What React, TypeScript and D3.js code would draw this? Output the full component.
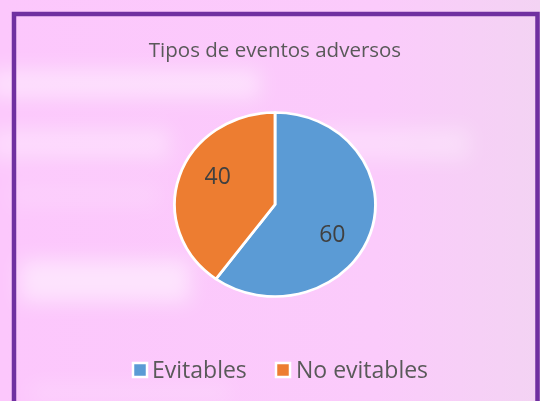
import React from "react";
import * as d3 from "d3";

const categories = ["Evitables", "No evitables"];
const values = [60, 40];
const colors = ["#5b9bd5", "#ed7d31"];
const title = "Tipos de eventos adversos";

const W = 540;
const H = 401;

export default function App() {
  const cx = 275;
  const cy = 204.5;
  const ry = 92;
  const sx = 1.092;

  const pie = d3.pie<number>().sort(null).startAngle(0).endAngle(2 * Math.PI);
  const arcs = pie(values);
  const arc = d3.arc<d3.PieArcDatum<number>>().innerRadius(0).outerRadius(ry);

  const labelPos = (a: d3.PieArcDatum<number>) => {
    const mid = (a.startAngle + a.endAngle) / 2;
    return [Math.sin(mid) * ry * sx * 0.6, -Math.cos(mid) * ry * 1.02];
  };

  const font = "'Open Sans', 'Noto Sans', sans-serif";

  const legendY = 370;
  const legendItems = [
    { x: 133, tx: 152 },
    { x: 276, tx: 296 },
  ];

  const blobs = [
    { x: -10, y: 70, w: 270, h: 28, o: 0.45 },
    { x: -10, y: 128, w: 180, h: 32, o: 0.35 },
    { x: 320, y: 128, w: 150, h: 32, o: 0.3 },
    { x: 10, y: 182, w: 150, h: 26, o: 0.15 },
    { x: 20, y: 260, w: 170, h: 42, o: 0.5 },
    { x: 30, y: 385, w: 200, h: 16, o: 0.2 },
  ];

  return (
    <svg
      width={W}
      height={H}
      viewBox={`0 0 ${W} ${H}`}
      style={{ position: "fixed", left: 0, top: 0, display: "block" }}
    >
      <defs>
        <linearGradient id="bg" x1="0" y1="0" x2="1" y2="0">
          <stop offset="0" stopColor="#fcc7fc" />
          <stop offset="0.7" stopColor="#fbcbfb" />
          <stop offset="1" stopColor="#f3d3f3" />
        </linearGradient>
        <filter id="blur" x="-50%" y="-50%" width="200%" height="200%">
          <feGaussianBlur stdDeviation="10" />
        </filter>
      </defs>
      <rect x={0} y={0} width={W} height={H} fill="url(#bg)" />
      <g filter="url(#blur)">
        {blobs.map((b, i) => (
          <rect key={i} x={b.x} y={b.y} width={b.w} height={b.h} fill="#ffffff" opacity={b.o} />
        ))}
      </g>

      <path
        d={`M14,${H + 5} L14,14 L537.5,14 L537.5,${H + 5}`}
        fill="none"
        stroke="#7030a0"
        strokeWidth={4.5}
      />

      <text
        x={275}
        y={57}
        textAnchor="middle"
        fontFamily={font}
        fontSize={20.5}
        fill="#595959"
      >
        {title}
      </text>

      <g transform={`translate(${cx},${cy}) scale(${sx},1)`}>
        {arcs.map((a, i) => (
          <path
            key={i}
            d={arc(a) || ""}
            fill={colors[i]}
            stroke="#ffffff"
            strokeWidth={2.6}
            strokeLinejoin="round"
          />
        ))}
      </g>
      <g transform={`translate(${cx},${cy})`}>
        {arcs.map((a, i) => {
          const [lx, ly] = labelPos(a);
          return (
            <text
              key={i}
              x={lx}
              y={ly}
              dy="0.35em"
              textAnchor="middle"
              fontFamily={font}
              fontSize={23}
              fill="#404040"
            >
              {values[i]}
            </text>
          );
        })}
      </g>

      {categories.map((c, i) => (
        <g key={c}>
          <rect
            x={legendItems[i].x}
            y={legendY - 7}
            width={14}
            height={14}
            fill={colors[i]}
            stroke="#ffffff"
            strokeWidth={2.5}
          />
          <text
            x={legendItems[i].tx}
            y={legendY}
            dy="0.35em"
            fontFamily={font}
            fontSize={23}
            fill="#595959"
          >
            {c}
          </text>
        </g>
      ))}
    </svg>
  );
}
